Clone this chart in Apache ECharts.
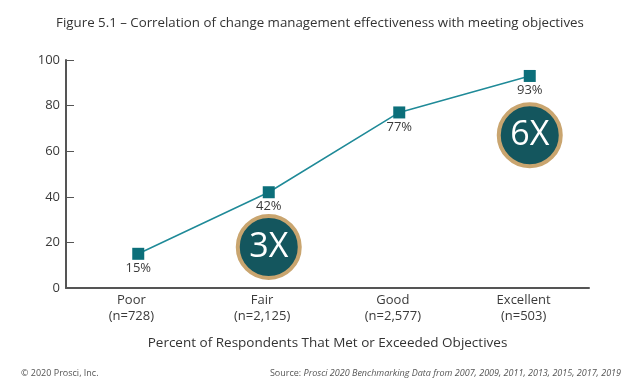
<!DOCTYPE html>
<html><head><meta charset="utf-8">
<script src="https://cdn.jsdelivr.net/npm/echarts@6/dist/echarts.min.js"></script>
<style>html,body{margin:0;padding:0;background:#fff}#c{width:640px;height:384px}</style>
</head><body><div id="c"></div>
<script>
const categories = ['Poor\n(n=728)', 'Fair\n(n=2,125)', 'Good\n(n=2,577)', 'Excellent\n(n=503)'];
const values = [15, 42, 77, 93];
const yTicks = [0, 20, 40, 60, 80, 100];
const callouts = [{label: '3X', cat: 1, y: 18}, {label: '6X', cat: 3, y: 67}];

const font = 'Open Sans';
const chart = echarts.init(document.getElementById('c'));
chart.setOption({
  animation: false,
  title: [
    {text: 'Figure 5.1 – Correlation of change management effectiveness with meeting objectives',
     left: 'center', top: 12, textStyle: {fontFamily: font, fontSize: 13.3, fontWeight: 'normal', color: '#333'}},
    {text: '© 2020 Prosci, Inc.', left: 16, top: 364, textStyle: {fontFamily: font, fontSize: 9, fontWeight: 'normal', color: '#555'}},
    {text: '{a|Source: }{b|Prosci 2020 Benchmarking Data from 2007, 2009, 2011, 2013, 2015, 2017, 2019}',
     right: 14, top: 364,
     textStyle: {fontWeight: 'normal', rich: {
       a: {fontFamily: font, fontSize: 9, color: '#555', fontWeight: 'normal'},
       b: {fontFamily: font, fontSize: 9, color: '#555', fontStyle: 'italic', fontWeight: 'normal'}}}}
  ],
  grid: [
    {left: 66, right: 51, top: 60, bottom: 96},
    {left: 73, right: 45, top: 60, bottom: 96}
  ],
  xAxis: [
    {type: 'category', gridIndex: 0, data: categories, boundaryGap: true,
     axisLine: {lineStyle: {color: '#555', width: 2}},
     axisTick: {inside: true, length: 5, lineStyle: {color: '#555', width: 1}},
     axisLabel: {fontFamily: font, fontSize: 13, color: '#3a3a3a', lineHeight: 16, margin: 4},
     name: 'Percent of Respondents That Met or Exceeded Objectives', nameLocation: 'middle', nameGap: 48,
     nameTextStyle: {fontFamily: font, fontSize: 13.5, color: '#333'}},
    {type: 'category', gridIndex: 1, data: categories, boundaryGap: true, show: false}
  ],
  yAxis: [
    {type: 'value', gridIndex: 0, min: 0, max: 100, interval: 20,
     axisLine: {show: true, lineStyle: {color: '#555', width: 2}},
     axisTick: {show: true, inside: true, length: 8, lineStyle: {color: '#555', width: 1}},
     splitLine: {show: false},
     axisLabel: {fontFamily: font, fontSize: 13, color: '#3a3a3a', margin: 6,
       formatter: v => yTicks.includes(v) ? String(v) : ''}},
    {type: 'value', gridIndex: 1, min: 0, max: 100, show: false}
  ],
  series: [{
    type: 'line', xAxisIndex: 1, yAxisIndex: 1, data: values,
    symbol: 'rect', symbolSize: 12,
    lineStyle: {color: '#1f8a98', width: 1.5},
    itemStyle: {color: '#0c6f7a'},
    label: {show: true, position: 'bottom', distance: 2, formatter: p => p.value + '%',
      fontFamily: font, fontSize: 13, color: '#3a3a3a'},
    markPoint: {
      symbol: 'circle', symbolSize: 62,
      itemStyle: {color: '#14565e', borderColor: '#c9a56f', borderWidth: 4},
      label: {show: true, fontFamily: font, fontSize: 34, color: '#fff', formatter: p => p.name},
      data: callouts.map(c => ({name: c.label, coord: [c.cat, c.y]}))
    }
  }]
});
</script></body></html>
